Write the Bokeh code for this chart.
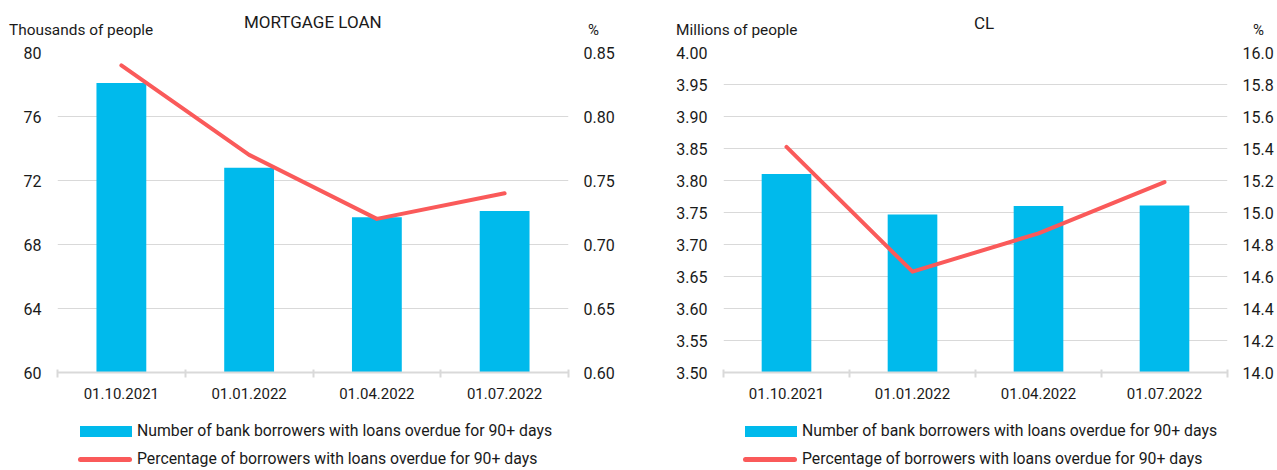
from bokeh.plotting import figure
from bokeh.layouts import row, column
from bokeh.models import Range1d, LinearAxis, FixedTicker, NumeralTickFormatter, Div
from bokeh.embed import file_html
from bokeh.resources import INLINE

# ---------------- data ----------------
dates = ["01.10.2021", "01.01.2022", "01.04.2022", "01.07.2022"]

mortgage_borrowers = [78.1, 72.8, 69.7, 70.1]      # thousands of people
mortgage_pct = [0.84, 0.77, 0.72, 0.74]            # %
cl_borrowers = [3.810, 3.747, 3.760, 3.761]        # millions of people
cl_pct = [15.41, 14.63, 14.87, 15.19]              # %

mortgage_left_ticks = [60, 64, 68, 72, 76, 80]
mortgage_right_ticks = [0.60, 0.65, 0.70, 0.75, 0.80, 0.85]
cl_left_ticks = [3.50, 3.55, 3.60, 3.65, 3.70, 3.75, 3.80, 3.85, 3.90, 3.95, 4.00]
cl_right_ticks = [14.0, 14.2, 14.4, 14.6, 14.8, 15.0, 15.2, 15.4, 15.6, 15.8, 16.0]

titles = ["MORTGAGE LOAN", "CL"]
left_units = ["Thousands of people", "Millions of people"]
right_unit = "%"
legend_labels = ["Number of bank borrowers with loans overdue for 90+ days",
                 "Percentage of borrowers with loans overdue for 90+ days"]

# ---------------- style ----------------
BAR = "#00BAEC"
LINE = "#FA5A5A"
GRID = "#D9D9D9"
TXT = "#1A1A1A"
FONT = "Roboto"
TOP = 40      # header strip (titles / units)
CHART_H = 370  # chart strip
FOOT = 470 - TOP - CHART_H  # legend strip


def make_chart(counts, pct, lticks, rticks, lfmt, rfmt, width, bl, br, bar_w):
    n = len(dates)
    xs = [i + 0.5 for i in range(n)]
    y0, y1 = lticks[0], lticks[-1]
    p = figure(width=width, height=CHART_H, output_backend="svg", toolbar_location=None,
               x_range=Range1d(0, n), y_range=Range1d(y0, y1),
               min_border_left=bl, min_border_right=br, min_border_top=52 - TOP,
               min_border_bottom=38)
    p.extra_y_ranges = {"pct": Range1d(rticks[0], rticks[-1])}
    p.outline_line_color = None
    p.background_fill_color = "white"
    p.border_fill_color = "white"

    p.vbar(x=xs, top=counts, bottom=y0, width=bar_w, fill_color=BAR, line_color=None)
    p.line(x=xs, y=pct, y_range_name="pct", line_color=LINE, line_width=4,
           line_join="round", line_cap="round")

    # x axis (ticks between categories)
    xa = p.xaxis[0]
    xa.ticker = FixedTicker(ticks=xs, minor_ticks=list(range(n + 1)))
    xa.major_label_overrides = {x: d for x, d in zip(xs, dates)}
    xa.major_tick_line_color = None
    xa.major_tick_out = 0
    xa.major_tick_in = 0
    xa.minor_tick_line_color = GRID
    xa.minor_tick_line_width = 2
    xa.minor_tick_out = 5
    xa.minor_tick_in = 3
    xa.axis_line_color = GRID
    xa.axis_line_width = 2
    xa.major_label_standoff = 10
    xa.major_label_text_font = FONT
    xa.major_label_text_font_size = "15px"
    xa.major_label_text_color = TXT

    # left axis
    ya = p.yaxis[0]
    ya.ticker = FixedTicker(ticks=lticks)
    ya.formatter = NumeralTickFormatter(format=lfmt)
    ya.axis_line_color = None
    ya.major_tick_line_color = None
    ya.minor_tick_line_color = None
    ya.major_tick_out = 0
    ya.major_label_standoff = 16
    ya.major_label_text_font = FONT
    ya.major_label_text_font_size = "16px"
    ya.major_label_text_color = TXT

    # right axis
    ra = LinearAxis(y_range_name="pct", ticker=FixedTicker(ticks=rticks),
                    formatter=NumeralTickFormatter(format=rfmt))
    ra.axis_line_color = None
    ra.major_tick_line_color = None
    ra.minor_tick_line_color = None
    ra.major_tick_out = 0
    ra.major_label_standoff = 15
    ra.major_label_text_font = FONT
    ra.major_label_text_font_size = "16px"
    ra.major_label_text_color = TXT
    p.add_layout(ra, "right")

    p.xgrid.grid_line_color = None
    p.ygrid.ticker = FixedTicker(ticks=lticks)
    p.ygrid.grid_line_color = GRID
    p.ygrid.grid_line_width = 1
    return p


left = make_chart(mortgage_borrowers, mortgage_pct, mortgage_left_ticks,
                  mortgage_right_ticks, "0", "0.00", width=640, bl=57, br=72, bar_w=0.39)
right = make_chart(cl_borrowers, cl_pct, cl_left_ticks, cl_right_ticks,
                   "0.00", "0.0", width=637, bl=83, br=50, bar_w=0.394)


def span(text, x, y, size, lh):
    return (f'<span style="position:absolute;left:{x}px;top:{y}px;font-size:{size}px;'
            f'line-height:{lh}px;white-space:nowrap;">{text}</span>')


def swatch(x, y, w, h, color, radius=0):
    return (f'<span style="position:absolute;left:{x}px;top:{y}px;width:{w}px;height:{h}px;'
            f'background:{color};border-radius:{radius}px;"></span>')


header_html = (
    f'<div style="position:relative;width:1277px;height:{TOP}px;font-family:{FONT};'
    f'color:{TXT};">'
    + span(left_units[0], 9, 21, 15.4, 18)
    + span(titles[0], 244, 12, 17, 20)
    + span(right_unit, 588, 21, 15, 18)
    + span(left_units[1], 676, 21, 15.4, 18)
    + span(titles[1], 974, 13, 17, 20)
    + span(right_unit, 1253, 21, 15, 18)
    + '</div>'
)
header = Div(text=header_html, width=1277, height=TOP, margin=0)

footer_html = (
    f'<div style="position:relative;width:1277px;height:{FOOT}px;font-family:{FONT};'
    f'color:{TXT};">'
    + swatch(80, 16, 52, 11, BAR) + span(legend_labels[0], 137, 12, 15.8, 18)
    + swatch(78, 47, 54, 5, LINE, 2.5) + span(legend_labels[1], 137, 40, 15.8, 18)
    + swatch(745, 16, 52, 11, BAR) + span(legend_labels[0], 802, 12, 15.8, 18)
    + swatch(743, 47, 54, 5, LINE, 2.5) + span(legend_labels[1], 802, 40, 15.8, 18)
    + '</div>'
)
footer = Div(text=footer_html, width=1277, height=FOOT, margin=0)

layout = column(header, row(left, right, margin=0), footer, margin=0)
open("out.html", "w").write(file_html(layout, INLINE))
